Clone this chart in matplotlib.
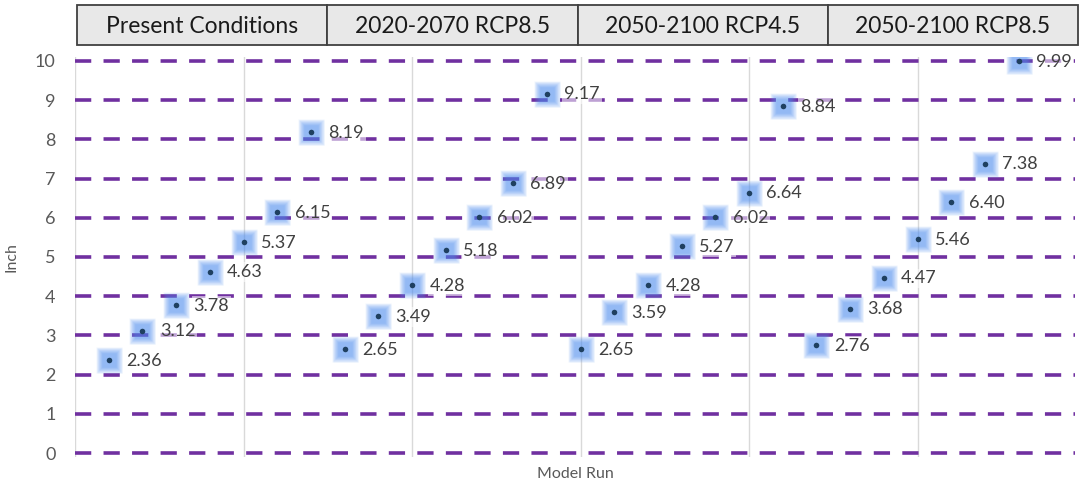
import matplotlib
matplotlib.use("Agg")
import matplotlib.pyplot as plt
from matplotlib.patches import Rectangle
import numpy as np

groups = ["Present Conditions", "2020-2070 RCP8.5", "2050-2100 RCP4.5", "2050-2100 RCP8.5"]
present = [2.36, 3.12, 3.78, 4.63, 5.37, 6.15, 8.19]
rcp85_2020_2070 = [2.65, 3.49, 4.28, 5.18, 6.02, 6.89, 9.17]
rcp45_2050_2100 = [2.65, 3.59, 4.28, 5.27, 6.02, 6.64, 8.84]
rcp85_2050_2100 = [2.76, 3.68, 4.47, 5.46, 6.40, 7.38, 9.99]
y_ticks = list(range(0, 11))
x_grid = [0, 5, 10, 15, 20, 25]

plt.rcParams["font.family"] = ["Lato", "DejaVu Sans"]

values = present + rcp85_2020_2070 + rcp45_2050_2100 + rcp85_2050_2100
x = np.arange(1, len(values) + 1)

W, H = 1080, 482
fig = plt.figure(figsize=(W / 100, H / 100), dpi=100)

xmin, xmax = 0, 1000 / 33.7
ymin, ymax = -0.1, 10.1
ppu_y = 39.2
bot_px = 453 + 0.1 * ppu_y
top_px = 61 - 0.1 * ppu_y
ax = fig.add_axes([75 / W, (H - bot_px) / H, 1000 / W, (bot_px - top_px) / H])
ax.set_xlim(xmin, xmax)
ax.set_ylim(ymin, ymax)

for s in ax.spines.values():
    s.set_visible(False)

ax.set_xticks(x_grid)
ax.set_xticklabels([])
ax.set_yticks(y_ticks)
ax.set_yticklabels([str(t) for t in y_ticks], fontsize=13, color="#595959")
ax.tick_params(axis="both", length=0)
ax.tick_params(axis="y", pad=14)
ax.xaxis.grid(True, color="#d9d9d9", lw=1.0, zorder=0)
ax.set_axisbelow(True)

for t in y_ticks:
    ax.axhline(t, color="#7030A0", lw=2.6, dashes=(4.5, 3.4), zorder=1)

glow = "#4f8ff2"
for ms in np.linspace(19, 10, 10):
    ax.plot(x, values, ls="none", marker="s", ms=ms, mfc=glow, mec="none",
            alpha=0.085, zorder=3)
ax.plot(x, values, ls="none", marker="o", ms=4, mfc="#1f4060", mec="none", zorder=4)

for xi, v in zip(x, values):
    ax.annotate(f"{v:.2f}", (xi, v), xytext=(12.5, -0.5), textcoords="offset points",
                va="center", ha="left", fontsize=13, color="#404040", zorder=5,
                bbox=dict(boxstyle="square,pad=0.1", fc="white", ec="none", alpha=0.55))

ax.set_ylabel("Inch", fontsize=11.5, color="#595959", labelpad=12)
ax.set_xlabel("Model Run", fontsize=11.5, color="#595959", labelpad=4)

hax = fig.add_axes([77 / W, (H - 45) / H, 1001 / W, 40 / H])
hax.set_xlim(0, len(groups))
hax.set_ylim(0, 1)
hax.axis("off")
for i, g in enumerate(groups):
    hax.add_patch(Rectangle((i, 0), 1, 1, fc="#e8e8e8", ec="#404040", lw=1.3,
                            clip_on=False))
    hax.text(i + 0.5, 0.47, g, ha="center", va="center", fontsize=16.5, color="#1a1a1a")

fig.savefig("out.png", dpi=100)
